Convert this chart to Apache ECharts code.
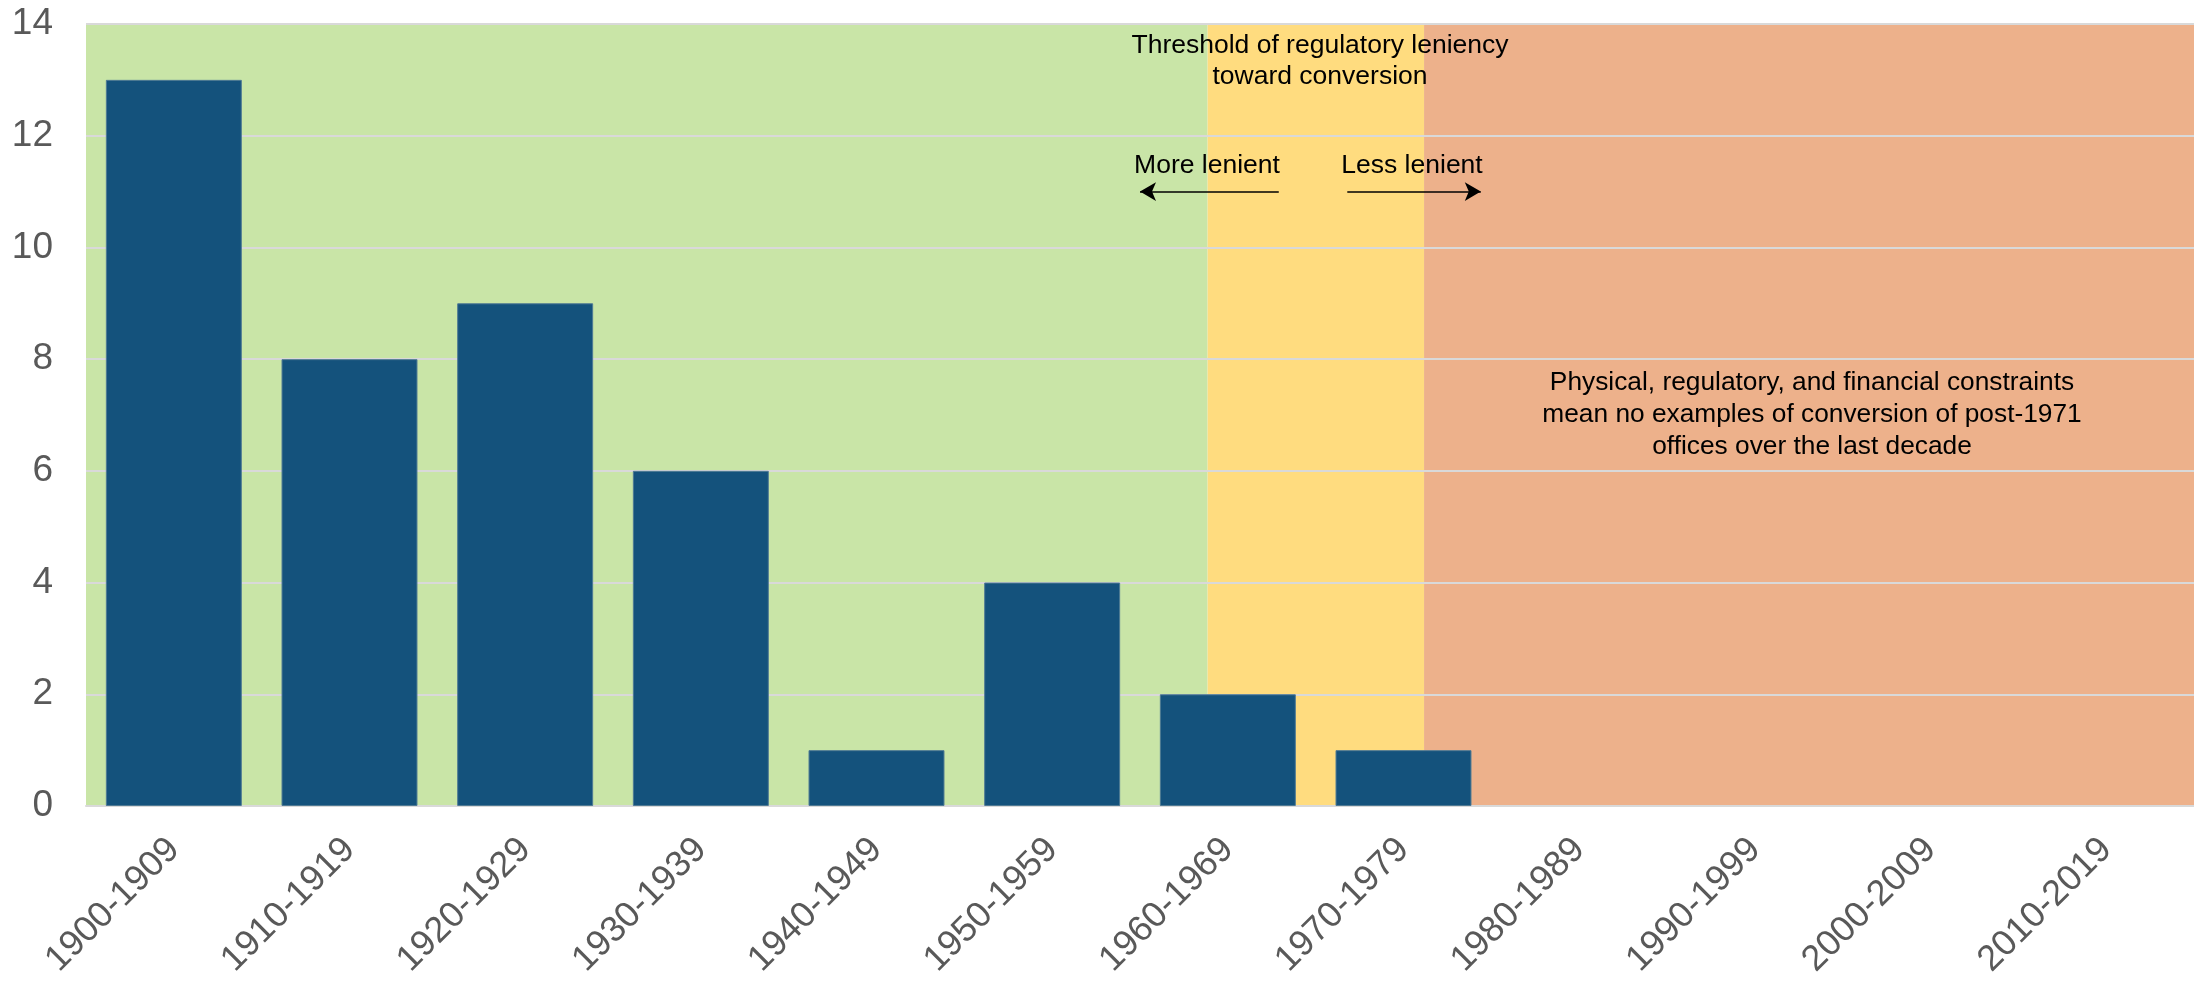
<!DOCTYPE html>
<html>
<head>
<meta charset="utf-8">
<script src="https://cdn.jsdelivr.net/npm/echarts@6/dist/echarts.min.js"></script>
<style>
  html, body { margin: 0; padding: 0; background: #fff; }
  #chart { width: 2194px; height: 981px; }
</style>
</head>
<body>
<div id="chart"></div>
<script>
// decades and number of conversions per decade
const decades = ['1900-1909', '1910-1919', '1920-1929', '1930-1939', '1940-1949', '1950-1959',
  '1960-1969', '1970-1979', '1980-1989', '1990-1999', '2000-2009', '2010-2019']
const conversions = [13, 8, 9, 6, 1, 4, 2, 1, 0, 0, 0, 0]

// y ticks
const yMin = 0
const yMax = 14
const yStep = 2

// background zones, in decade units along the x axis (0 = left edge, 12 = right edge)
const zoneStart = [0, 6.385, 7.617]
const zoneEnd = [6.385, 7.617, 12]
const zoneColors = ['#c9e5a7', '#ffdc7f', '#edb18b']

// arrows "more / less lenient"
const arrowLevel = 11
const moreArrow = [6.79, 6.0]
const lessArrow = [7.18, 7.94]

const thresholdText = 'Threshold of regulatory leniency\ntoward conversion'
const noteText = 'Physical, regulatory, and financial constraints\nmean no examples of conversion of post-1971\noffices over the last decade'

const FONT = '"Liberation Sans", Arial, sans-serif'

let chart = echarts.init(document.getElementById('chart'))

const zoneData = zoneStart.map((s, i) => [s, zoneEnd[i], i])
// no outline on empty decades
const barData = conversions.map(v => v === 0 ? { value: v, itemStyle: { borderWidth: 0 } } : v)

const option = {
  animation: false,
  grid: { left: 86, right: 0, top: 24, bottom: 175, containLabel: false },
  xAxis: [
    {
      type: 'category',
      data: decades,
      axisTick: { show: false },
      axisLine: { show: true, lineStyle: { color: '#d9d9d9', width: 2 } },
      axisLabel: {
        rotate: 45,
        margin: 38,
        fontSize: 36,
        color: '#595959',
        fontFamily: FONT,
        interval: 0
      }
    },
    { type: 'value', min: 0, max: 12, show: false }
  ],
  yAxis: {
    type: 'value',
    min: yMin,
    max: yMax,
    interval: yStep,
    axisLine: { show: false },
    axisTick: { show: false },
    splitLine: { lineStyle: { color: '#d9d9d9', width: 2 } },
    axisLabel: { fontSize: 37, color: '#595959', fontFamily: FONT, margin: 33 }
  },
  series: [
    {
      type: 'custom',
      xAxisIndex: 1,
      z: -1,
      silent: true,
      data: zoneData,
      renderItem: function (params, api) {
        const p0 = api.coord([api.value(0), yMax])
        const p1 = api.coord([api.value(1), yMin])
        return {
          type: 'rect',
          shape: { x: p0[0], y: p0[1], width: p1[0] - p0[0], height: p1[1] - p0[1] },
          style: { fill: zoneColors[api.value(2)] }
        }
      },
      markLine: {
        silent: true,
        symbol: ['none', 'arrow'],
        symbolSize: [14, 16],
        label: { show: false },
        lineStyle: { color: '#000', width: 1.5, type: 'solid' },
        data: [
          [{ coord: [moreArrow[0], arrowLevel] }, { coord: [moreArrow[1], arrowLevel] }],
          [{ coord: [lessArrow[0], arrowLevel] }, { coord: [lessArrow[1], arrowLevel] }]
        ]
      }
    },
    {
      type: 'bar',
      data: barData,
      barCategoryGap: '22.6%',
      itemStyle: { color: '#14527c', borderColor: '#4f7a94', borderWidth: 1 }
    }
  ]
}

chart.setOption(option)

// annotation texts
function txt(x, y, text, lh, size) {
  return {
    type: 'text',
    silent: true,
    style: {
      x: x, y: y, text: text,
      align: 'center', verticalAlign: 'middle',
      font: size + 'px ' + FONT,
      lineHeight: lh,
      fill: '#000'
    },
    z: 10
  }
}

chart.setOption({
  graphic: [
    txt(1320, 61, thresholdText, 31, 26.5),
    txt(1207, 166, 'More lenient', 31, 26.5),
    txt(1412, 166, 'Less lenient', 31, 26.5),
    txt(1812, 415, noteText, 32, 26.3)
  ]
})
</script>
</body>
</html>
